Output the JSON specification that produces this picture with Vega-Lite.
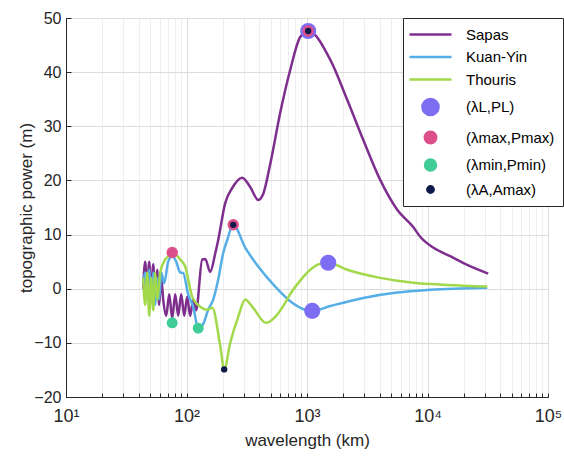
{
  "$schema": "https://vega.github.io/schema/vega-lite/v6.json",
  "width": 482,
  "height": 379,
  "autosize": "none",
  "padding": {"left": 66, "top": 18, "right": 16, "bottom": 60},
  "background": "white",
  "config": {
    "font": "Liberation Sans",
    "view": {"stroke": "#262626", "strokeWidth": 1},
    "axis": {
      "domainColor": "#262626",
      "tickColor": "#262626",
      "labelColor": "#262626",
      "titleColor": "#262626",
      "labelFont": "Liberation Sans",
      "titleFont": "Liberation Sans",
      "titleFontWeight": "normal"
    }
  },
  "datasets": {
    "lines": [
      {"series": "Sapas", "x": 43.7, "y": 0},
      {"series": "Sapas", "x": 45.4, "y": 5},
      {"series": "Sapas", "x": 47.2, "y": -1},
      {"series": "Sapas", "x": 49.0, "y": 5},
      {"series": "Sapas", "x": 50.9, "y": -2},
      {"series": "Sapas", "x": 52.9, "y": 4.5},
      {"series": "Sapas", "x": 55.0, "y": -1},
      {"series": "Sapas", "x": 57.1, "y": 3.5},
      {"series": "Sapas", "x": 59.3, "y": -3},
      {"series": "Sapas", "x": 61.7, "y": 2},
      {"series": "Sapas", "x": 64.1, "y": -2},
      {"series": "Sapas", "x": 67.9, "y": -5},
      {"series": "Sapas", "x": 71.9, "y": -1},
      {"series": "Sapas", "x": 76.1, "y": -5.5},
      {"series": "Sapas", "x": 80.6, "y": -1},
      {"series": "Sapas", "x": 85.3, "y": -5},
      {"series": "Sapas", "x": 90.4, "y": -1},
      {"series": "Sapas", "x": 95.7, "y": -5},
      {"series": "Sapas", "x": 101.3, "y": -1.5},
      {"series": "Sapas", "x": 107.3, "y": -5},
      {"series": "Sapas", "x": 113.6, "y": -2},
      {"series": "Sapas", "x": 120.3, "y": -4},
      {"series": "Sapas", "x": 135.0, "y": 5.4},
      {"series": "Sapas", "x": 143.0, "y": 5.5},
      {"series": "Sapas", "x": 157.3, "y": 3.1},
      {"series": "Sapas", "x": 173.1, "y": 6.5},
      {"series": "Sapas", "x": 183.3, "y": 9},
      {"series": "Sapas", "x": 209.5, "y": 15.8},
      {"series": "Sapas", "x": 239.5, "y": 18.6},
      {"series": "Sapas", "x": 289.9, "y": 20.5},
      {"series": "Sapas", "x": 337.8, "y": 18.8},
      {"series": "Sapas", "x": 393.6, "y": 16.4},
      {"series": "Sapas", "x": 433.0, "y": 17.5},
      {"series": "Sapas", "x": 495.1, "y": 23},
      {"series": "Sapas", "x": 599.3, "y": 32.5},
      {"series": "Sapas", "x": 725.5, "y": 40.4},
      {"series": "Sapas", "x": 878.3, "y": 46.5},
      {"series": "Sapas", "x": 1023, "y": 47.6},
      {"series": "Sapas", "x": 1558, "y": 42.3},
      {"series": "Sapas", "x": 2156, "y": 34.9},
      {"series": "Sapas", "x": 2927, "y": 27.5},
      {"series": "Sapas", "x": 4051, "y": 20.1},
      {"series": "Sapas", "x": 5605, "y": 14.6},
      {"series": "Sapas", "x": 7610, "y": 11.4},
      {"series": "Sapas", "x": 8698, "y": 9.6},
      {"series": "Sapas", "x": 11150, "y": 7.6},
      {"series": "Sapas", "x": 15430, "y": 6.0},
      {"series": "Sapas", "x": 21360, "y": 4.4},
      {"series": "Sapas", "x": 31890, "y": 2.8},
      {"series": "Kuan-Yin", "x": 43.7, "y": 1},
      {"series": "Kuan-Yin", "x": 45.4, "y": 3},
      {"series": "Kuan-Yin", "x": 47.2, "y": -1},
      {"series": "Kuan-Yin", "x": 49.0, "y": 3.5},
      {"series": "Kuan-Yin", "x": 50.9, "y": -2},
      {"series": "Kuan-Yin", "x": 52.9, "y": 3},
      {"series": "Kuan-Yin", "x": 55.0, "y": -3},
      {"series": "Kuan-Yin", "x": 57.1, "y": 2},
      {"series": "Kuan-Yin", "x": 59.3, "y": -2},
      {"series": "Kuan-Yin", "x": 61.7, "y": 3},
      {"series": "Kuan-Yin", "x": 65.3, "y": 1},
      {"series": "Kuan-Yin", "x": 70.5, "y": 5},
      {"series": "Kuan-Yin", "x": 76.1, "y": 6},
      {"series": "Kuan-Yin", "x": 82.1, "y": 5},
      {"series": "Kuan-Yin", "x": 88.7, "y": 3},
      {"series": "Kuan-Yin", "x": 93.9, "y": 2.9},
      {"series": "Kuan-Yin", "x": 103.3, "y": -1.1},
      {"series": "Kuan-Yin", "x": 113.6, "y": -3.3},
      {"series": "Kuan-Yin", "x": 125.1, "y": -7.3},
      {"series": "Kuan-Yin", "x": 137.6, "y": -6.5},
      {"series": "Kuan-Yin", "x": 151.4, "y": -3.9},
      {"series": "Kuan-Yin", "x": 166.6, "y": -2},
      {"series": "Kuan-Yin", "x": 183.3, "y": 1.7},
      {"series": "Kuan-Yin", "x": 201.7, "y": 6.6},
      {"series": "Kuan-Yin", "x": 217.7, "y": 9},
      {"series": "Kuan-Yin", "x": 244.2, "y": 11.8},
      {"series": "Kuan-Yin", "x": 307.0, "y": 7.6},
      {"series": "Kuan-Yin", "x": 393.6, "y": 4.1},
      {"series": "Kuan-Yin", "x": 544.6, "y": 0.4},
      {"series": "Kuan-Yin", "x": 753.7, "y": -2.6},
      {"series": "Kuan-Yin", "x": 966.2, "y": -3.9},
      {"series": "Kuan-Yin", "x": 1105, "y": -4.1},
      {"series": "Kuan-Yin", "x": 1558, "y": -3.2},
      {"series": "Kuan-Yin", "x": 2927, "y": -1.7},
      {"series": "Kuan-Yin", "x": 5605, "y": -0.7},
      {"series": "Kuan-Yin", "x": 10530, "y": -0.2},
      {"series": "Kuan-Yin", "x": 31290, "y": 0.2},
      {"series": "Thouris", "x": 43.7, "y": 2},
      {"series": "Thouris", "x": 45.4, "y": -3},
      {"series": "Thouris", "x": 47.2, "y": 3},
      {"series": "Thouris", "x": 49.0, "y": -5},
      {"series": "Thouris", "x": 50.9, "y": 2},
      {"series": "Thouris", "x": 52.9, "y": -4},
      {"series": "Thouris", "x": 55.0, "y": 3},
      {"series": "Thouris", "x": 57.1, "y": -2},
      {"series": "Thouris", "x": 60.5, "y": 3},
      {"series": "Thouris", "x": 66.6, "y": 5.4},
      {"series": "Thouris", "x": 73.2, "y": 6.2},
      {"series": "Thouris", "x": 76.1, "y": 6.7},
      {"series": "Thouris", "x": 88.7, "y": 5.4},
      {"series": "Thouris", "x": 97.5, "y": 4.1},
      {"series": "Thouris", "x": 111.5, "y": -1.5},
      {"series": "Thouris", "x": 125.1, "y": -3},
      {"series": "Thouris", "x": 148.5, "y": -3.9},
      {"series": "Thouris", "x": 163.4, "y": -3.5},
      {"series": "Thouris", "x": 190.4, "y": -10.5},
      {"series": "Thouris", "x": 205.5, "y": -14.9},
      {"series": "Thouris", "x": 230.5, "y": -10},
      {"series": "Thouris", "x": 268.5, "y": -5.2},
      {"series": "Thouris", "x": 307.0, "y": -2.0},
      {"series": "Thouris", "x": 350.9, "y": -3.3},
      {"series": "Thouris", "x": 458.5, "y": -6.3},
      {"series": "Thouris", "x": 544.6, "y": -5.2},
      {"series": "Thouris", "x": 659.3, "y": -2.6},
      {"series": "Thouris", "x": 725.5, "y": -1},
      {"series": "Thouris", "x": 878.3, "y": 1.5},
      {"series": "Thouris", "x": 1063, "y": 3.5},
      {"series": "Thouris", "x": 1239, "y": 4.5},
      {"series": "Thouris", "x": 1499, "y": 4.8},
      {"series": "Thouris", "x": 2156, "y": 3.5},
      {"series": "Thouris", "x": 4051, "y": 2.0},
      {"series": "Thouris", "x": 7610, "y": 1.1},
      {"series": "Thouris", "x": 14570, "y": 0.7},
      {"series": "Thouris", "x": 31290, "y": 0.4}
    ],
    "pts": [
      {"series": "(λL,PL)", "x": 1023, "y": 47.6},
      {"series": "(λL,PL)", "x": 1105, "y": -4.1},
      {"series": "(λL,PL)", "x": 1499, "y": 4.8},
      {"series": "(λmax,Pmax)", "x": 76.1, "y": 6.7},
      {"series": "(λmax,Pmax)", "x": 244.2, "y": 11.8},
      {"series": "(λmax,Pmax)", "x": 1023, "y": 47.6},
      {"series": "(λmin,Pmin)", "x": 76.1, "y": -6.3},
      {"series": "(λmin,Pmin)", "x": 125.1, "y": -7.3},
      {"series": "(λA,Amax)", "x": 205.5, "y": -14.9},
      {"series": "(λA,Amax)", "x": 244.2, "y": 11.8},
      {"series": "(λA,Amax)", "x": 1023, "y": 47.6}
    ]
  },
  "layer": [
    {
      "data": {"name": "lines"},
      "mark": {"type": "line", "strokeWidth": 2.5, "interpolate": "monotone"},
      "encoding": {
        "x": {
          "field": "x", "type": "quantitative",
          "scale": {"type": "log", "domain": [10, 100000], "nice": false},
          "axis": {
            "title": "wavelength (km)",
            "titleFontSize": 17,
            "titlePadding": 7,
            "labelFontSize": 18,
            "labelPadding": 14,
            "labelOverlap": false,
            "labelFlush": false,
            "values": [10,20,30,40,50,60,70,80,90,100,200,300,400,500,600,700,800,900,1000,2000,3000,4000,5000,6000,7000,8000,9000,10000,20000,30000,40000,50000,60000,70000,80000,90000,100000],
            "labelExpr": "datum.value == 10 ? '10¹' : datum.value == 100 ? '10²' : datum.value == 1000 ? '10³' : datum.value == 10000 ? '10⁴' : datum.value == 100000 ? '10⁵' : ''",
            "tickSize": -4,
            "grid": true,
            "gridColor": {"condition": {"test": "indexof([10,100,1000,10000,100000], datum.value) >= 0", "value": "#dcdcdc"}, "value": "#efefef"}
          }
        },
        "y": {
          "field": "y", "type": "quantitative",
          "scale": {"domain": [-20, 50], "nice": false},
          "axis": {
            "title": "topographic power (m)",
            "titleFontSize": 17,
            "titlePadding": -2,
            "labelFontSize": 16,
            "labelPadding": 10,
            "values": [-20,-10,0,10,20,30,40,50],
            "tickSize": -5,
            "grid": true,
            "gridColor": "#dcdcdc"
          }
        },
        "color": {
          "field": "series", "type": "nominal",
          "scale": {
            "domain": ["Sapas", "Kuan-Yin", "Thouris", "(λL,PL)", "(λmax,Pmax)", "(λmin,Pmin)", "(λA,Amax)"],
            "range": ["#7e2f8e", "#55aee6", "#a2d94a", "#7d6df2", "#dc4f8a", "#40cc96", "#0d1a4a"]
          },
          "legend": {
            "title": null,
            "orient": "none",
            "legendX": 337,
            "legendY": 0,
            "fillColor": "white",
            "strokeColor": "#262626",
            "padding": 8,
            "labelFontSize": 15,
            "labelFont": "Liberation Sans",
            "labelColor": "#000000",
            "symbolStrokeWidth": 2.5,
            "rowPadding": 5.5,
            "symbolOffset": 10,
            "labelOffset": 26
          }
        }
      }
    },
    {
      "data": {"name": "pts"},
      "mark": {"type": "point", "filled": true, "opacity": 1},
      "encoding": {
        "x": {"field": "x", "type": "quantitative"},
        "y": {"field": "y", "type": "quantitative"},
        "color": {"field": "series", "type": "nominal"},
        "size": {
          "field": "series", "type": "nominal",
          "scale": {
            "type": "ordinal",
            "domain": ["Sapas", "Kuan-Yin", "Thouris", "(λL,PL)", "(λmax,Pmax)", "(λmin,Pmin)", "(λA,Amax)"],
            "range": [196, 196, 196, 260, 130, 120, 40]
          },
          "legend": {"title": null}
        },
        "shape": {
          "field": "series", "type": "nominal",
          "scale": {
            "domain": ["Sapas", "Kuan-Yin", "Thouris", "(λL,PL)", "(λmax,Pmax)", "(λmin,Pmin)", "(λA,Amax)"],
            "range": ["M-3,0H3", "M-3,0H3", "M-3,0H3", "circle", "circle", "circle", "circle"]
          },
          "legend": {"title": null}
        }
      }
    }
  ]
}
